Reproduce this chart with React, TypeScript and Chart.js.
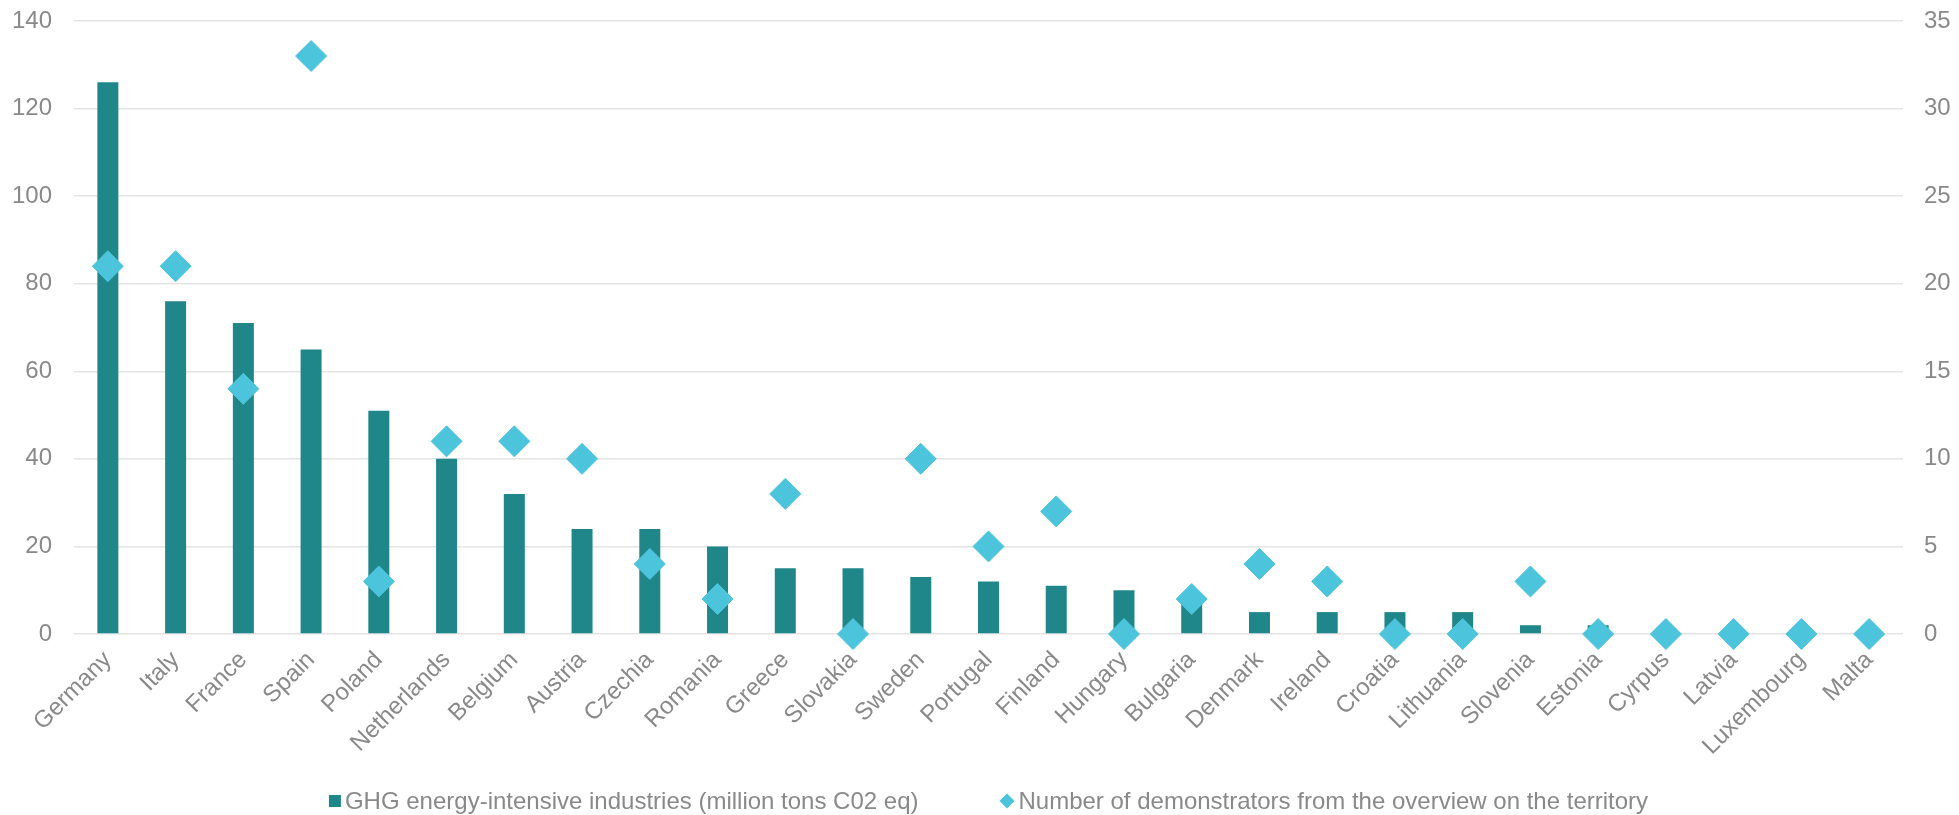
import React, { useEffect, useRef } from "react";
import { Chart, registerables } from "chart.js";

Chart.register(...registerables);

const countries = [
  "Germany", "Italy", "France", "Spain", "Poland", "Netherlands", "Belgium",
  "Austria", "Czechia", "Romania", "Greece", "Slovakia", "Sweden", "Portugal",
  "Finland", "Hungary", "Bulgaria", "Denmark", "Ireland", "Croatia", "Lithuania",
  "Slovenia", "Estonia", "Cyrpus", "Latvia", "Luxembourg", "Malta",
];

// GHG emissions of energy-intensive industries (million tons CO2 eq)
const ghgEmissions = [
  126, 76, 71, 65, 51, 40, 32, 24, 24, 20, 15, 15, 13, 12, 11, 10, 7, 5, 5, 5, 5,
  2, 2, 0, 0, 0, 0,
];

// Number of demonstrators located in each country
const demonstrators = [
  21, 21, 14, 33, 3, 11, 11, 10, 4, 2, 8, 0, 10, 5, 7, 0, 2, 4, 3, 0, 0, 3, 0, 0,
  0, 0, 0,
];

const leftTicks = { min: 0, max: 140, step: 20 };
const rightTicks = { min: 0, max: 35, step: 5 };

const BAR_COLOR = "#1f8789";
const DIAMOND_COLOR = "#4bc4dc";
const TEXT_COLOR = "#898989";
const GRID_COLOR = "#e4e4e4";
const FONT_FAMILY = "'Liberation Sans', Arial, Helvetica, sans-serif";
const FONT_SIZE = 24;

// Legend drawn under the category labels: a marker per dataset, then its label.
const bottomLegend = {
  id: "bottomLegend",
  afterDraw(chart: any) {
    const { ctx, chartArea } = chart;
    const markerGap = 4;
    const itemGap = 81;
    const y = chart.height - 14;
    ctx.save();
    ctx.font = `${FONT_SIZE}px ${FONT_FAMILY}`;
    ctx.textBaseline = "middle";
    ctx.textAlign = "left";
    const items = chart.data.datasets.map((ds: any) => {
      const diamond = ds.pointStyle === "rectRot";
      const markerSize = diamond ? 15 : 12;
      return {
        text: ds.label as string,
        color: (diamond ? ds.pointBackgroundColor : ds.backgroundColor) as string,
        diamond,
        markerSize,
        width: markerSize + markerGap + ctx.measureText(ds.label).width,
      };
    });
    const total =
      items.reduce((sum: number, it: any) => sum + it.width, 0) + itemGap * (items.length - 1);
    let x = (chartArea.left + chartArea.right) / 2 - total / 2;
    for (const it of items) {
      ctx.fillStyle = it.color;
      const s = it.markerSize;
      if (it.diamond) {
        ctx.beginPath();
        ctx.moveTo(x, y);
        ctx.lineTo(x + s / 2, y - s / 2);
        ctx.lineTo(x + s, y);
        ctx.lineTo(x + s / 2, y + s / 2);
        ctx.closePath();
        ctx.fill();
      } else {
        ctx.fillRect(x, y - s / 2, s, s);
      }
      ctx.fillStyle = TEXT_COLOR;
      ctx.fillText(it.text, x + s + markerGap, y + 1);
      x += it.width + itemGap;
    }
    ctx.restore();
  },
};

// Value axes: fixed width, and no extra room reserved above the top tick.
const fitValueAxis = (width: number) => (scale: any) => {
  scale.width = width;
  scale.paddingTop = 0;
  scale.paddingBottom = 0;
};

export default function App() {
  const canvasRef = useRef<HTMLCanvasElement | null>(null);

  useEffect(() => {
    if (!canvasRef.current) return;
    const font = { family: FONT_FAMILY, size: FONT_SIZE };

    const chart = new Chart(canvasRef.current, {
      type: "bar",
      data: {
        labels: countries,
        datasets: [
          {
            type: "bar",
            label: "GHG energy-intensive industries (million tons C02 eq)",
            data: ghgEmissions,
            backgroundColor: BAR_COLOR,
            borderWidth: 0,
            yAxisID: "y",
            order: 1,
            barPercentage: 0.31,
            categoryPercentage: 1,
            pointStyle: "rect",
          } as any,
          {
            type: "line",
            label: "Number of demonstrators from the overview on the territory",
            data: demonstrators,
            yAxisID: "y1",
            order: 0,
            showLine: false,
            pointStyle: "rectRot",
            pointRadius: 15.5,
            pointHoverRadius: 15.5,
            pointBackgroundColor: DIAMOND_COLOR,
            pointBorderColor: DIAMOND_COLOR,
            pointBorderWidth: 1,
            backgroundColor: DIAMOND_COLOR,
            borderColor: DIAMOND_COLOR,
            clip: false,
          } as any,
        ],
      },
      options: {
        animation: false,
        responsive: true,
        maintainAspectRatio: false,
        layout: { padding: { top: 21, right: 0, bottom: 46, left: 0 } },
        plugins: {
          tooltip: { enabled: false },
          legend: { display: false },
        },
        scales: {
          x: {
            grid: { display: false, drawTicks: false },
            border: { display: false },
            ticks: {
              color: TEXT_COLOR,
              font,
              minRotation: 45,
              maxRotation: 45,
              autoSkip: false,
              padding: 12,
            },
            afterFit: (scale: any) => {
              scale.height = 135;
            },
          },
          y: {
            position: "left",
            min: leftTicks.min,
            max: leftTicks.max,
            grid: { color: GRID_COLOR, lineWidth: 1.5, drawTicks: false },
            border: { display: false },
            ticks: { stepSize: leftTicks.step, color: TEXT_COLOR, font, padding: 22 },
            afterFit: fitValueAxis(74),
          },
          y1: {
            position: "right",
            min: rightTicks.min,
            max: rightTicks.max,
            grid: { display: false, drawTicks: false },
            border: { display: false },
            ticks: { stepSize: rightTicks.step, color: TEXT_COLOR, font, padding: 21 },
            afterFit: fitValueAxis(56),
          },
        },
      },
      plugins: [bottomLegend],
    });

    return () => chart.destroy();
  }, []);

  return (
    <div style={{ position: "absolute", left: 0, top: 0, width: 1959, height: 815, background: "#fff" }}>
      <canvas ref={canvasRef} />
    </div>
  );
}
